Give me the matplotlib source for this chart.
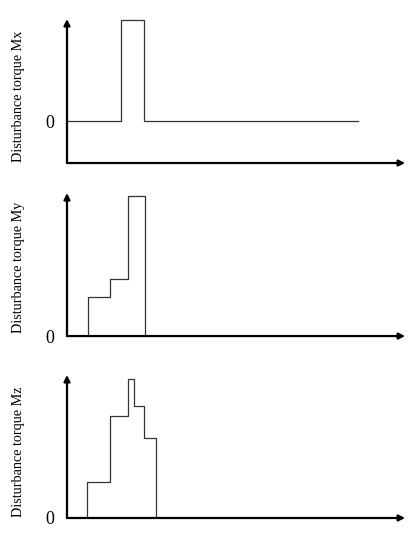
import matplotlib.pyplot as plt

# step profiles of the disturbance torques (arbitrary units)
mx_t = [0, 2.4, 2.4, 3.4, 3.4, 12.9]
mx_v = [0, 0, 0.99, 0.99, 0, 0]

my_t = [0.93, 0.93, 1.91, 1.91, 2.71, 2.71, 3.46, 3.46]
my_v = [0, 0.27, 0.27, 0.40, 0.40, 0.98, 0.98, 0]

mz_t = [0.89, 0.89, 1.91, 1.91, 2.71, 2.71, 2.97, 2.97, 3.42, 3.42, 3.95, 3.95]
mz_v = [0, 0.25, 0.25, 0.71, 0.71, 0.97, 0.97, 0.78, 0.78, 0.56, 0.56, 0]

labels = ['Disturbance torque Mx', 'Disturbance torque My', 'Disturbance torque Mz']

plt.rcParams['font.family'] = ['Liberation Serif', 'DejaVu Serif']

fig = plt.figure(figsize=(4.2, 5.5), dpi=100)
boxes = [[0.1595, 0.7036, 0.805, 0.2618],
         [0.1595, 0.389, 0.805, 0.26],
         [0.1595, 0.0582, 0.805, 0.26]]
data = [(mx_t, mx_v, (-0.41, 1.0)), (my_t, my_v, (0, 1.0)), (mz_t, mz_v, (0, 1.0))]
label_y = [0.46, 0.48, 0.46]

for box, (t, v, yl), lab, ly in zip(boxes, data, labels, label_y):
    ax = fig.add_axes(box)
    ax.plot(t, v, color='#333333', lw=0.9)
    ax.set_xlim(0, 15)
    ax.set_ylim(*yl)
    for s in ax.spines.values():
        s.set_visible(False)
    ax.set_xticks([])
    ax.set_yticks([0])
    ax.set_yticklabels(['0'], fontsize=13)
    ax.tick_params(axis='y', length=0, pad=9)
    # axes drawn as arrows
    ax.annotate('', xy=(0, 1.0), xytext=(0, 0), xycoords='axes fraction',
                arrowprops=dict(arrowstyle='-|>', color='black', lw=1.6,
                                mutation_scale=9, shrinkA=0, shrinkB=0))
    ax.annotate('', xy=(1.0, 0), xytext=(0, 0), xycoords='axes fraction',
                arrowprops=dict(arrowstyle='-|>', color='black', lw=1.6,
                                mutation_scale=9, shrinkA=0, shrinkB=0))
    ax.set_ylabel(lab, fontsize=10.2)
    ax.yaxis.set_label_coords(-0.124, ly)

fig.savefig('out.png', dpi=100)
